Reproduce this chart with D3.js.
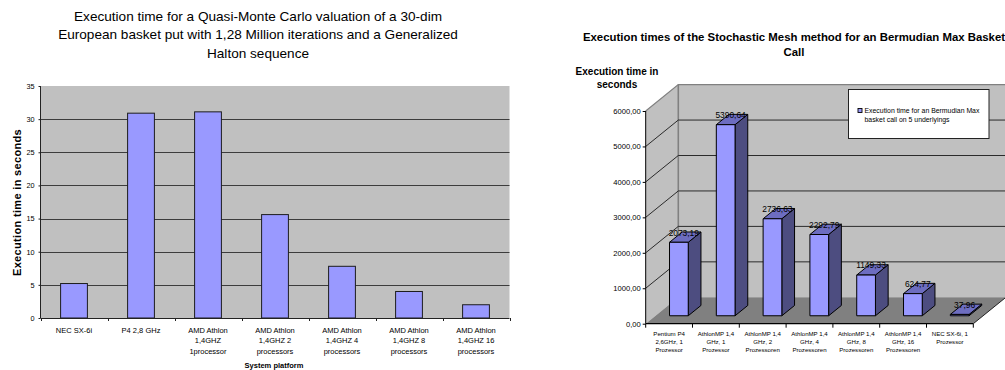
<!DOCTYPE html>
<html>
<head>
<meta charset="utf-8">
<script src="https://cdn.jsdelivr.net/npm/d3@7"></script>
<style>
html,body{margin:0;padding:0;background:#fff;overflow:hidden}
svg{display:block;font-family:"Liberation Sans",Arial,sans-serif}
text{fill:#000}
</style>
</head>
<body>
<svg id="chart" width="1005" height="370"></svg>
<script>
// Quasi-Monte Carlo timings (2D column chart)
const qmcTitle = ["Execution time for a Quasi-Monte Carlo valuation of a 30-dim",
  "European basket put with 1,28 Million iterations and a Generalized",
  "Halton sequence"];
const qmcCategories = ["NEC SX-6i", "P4 2,8 GHz", "AMD Athlon|1,4GHZ|1processor",
  "AMD Athlon|1,4GHZ 2|processors", "AMD Athlon|1,4GHZ 4|processors",
  "AMD Athlon|1,4GHZ 8|processors", "AMD Athlon|1,4GHZ 16|processors"];
const qmcValues = [5.2, 30.9, 31.1, 15.6, 7.8, 4.0, 2.0];
const qmcTicks = [0, 5, 10, 15, 20, 25, 30, 35];

// Stochastic Mesh timings (3D column chart)
const meshTitle = ["Execution times of the Stochastic Mesh method for an Bermudian Max Basket", "Call"];
const meshCategories = ["Pentium P4|2,6GHz, 1|Prozessor", "AthlonMP 1,4|GHz, 1|Prozessor",
  "AthlonMP 1,4|GHz, 2|Prozessoren", "AthlonMP 1,4|GHz, 4|Prozessoren",
  "AthlonMP 1,4|GHz, 8|Prozessoren", "AthlonMP 1,4|GHz, 16|Prozessoren", "NEC SX-6i, 1|Prozessor"];
const meshValues = [2073.19, 5390.64, 2736.63, 2292.79, 1149.33, 624.77, 37.96];
const meshTicks = [0, 1000, 2000, 3000, 4000, 5000, 6000];
const meshLegend = ["Execution time for an Bermudian Max", "basket call on 5 underlyings"];

const svg = d3.select("#chart");
const commaLocale = d3.formatLocale({decimal: ",", thousands: "", grouping: [3], currency: ["", ""]});
const fmt2 = commaLocale.format(".2f");

function multiline(g, x, y, lines, gap, size, weight) {
  lines.forEach((line, i) => g.append("text")
    .attr("x", x).attr("y", y + i * gap)
    .attr("text-anchor", "middle")
    .attr("font-size", size)
    .attr("font-weight", weight || "normal")
    .text(line));
}

/* ---------- left chart ---------- */
(function () {
  const g = svg.append("g");
  const x = d3.scaleBand().domain(qmcCategories).range([40.5, 509.5]).paddingInner(0.6).paddingOuter(0.3);
  const edge = d3.scaleBand().domain(qmcCategories).range([40.5, 509.5]);
  const y = d3.scaleLinear().domain([0, 35]).range([318, 86]);

  multiline(g, 258, 20.5, qmcTitle, 18.5, 13.6);

  g.append("rect").attr("x", 40.5).attr("y", y(35))
    .attr("width", 469).attr("height", y(0) - y(35)).attr("fill", "#c0c0c0");

  g.selectAll("line.grid").data(qmcTicks.slice(1, -1)).join("line")
    .attr("class", "grid")
    .attr("x1", 40.5).attr("x2", 509.5)
    .attr("y1", d => Math.round(y(d)) + 0.5).attr("y2", d => Math.round(y(d)) + 0.5)
    .attr("stroke", "#3c3c3c");

  g.selectAll("rect.bar").data(qmcValues).join("rect")
    .attr("class", "bar")
    .attr("x", (d, i) => x(qmcCategories[i]))
    .attr("width", x.bandwidth())
    .attr("y", d => y(d))
    .attr("height", d => y(0) - y(d))
    .attr("fill", "#9999ff")
    .attr("stroke", "#1c1c1c");

  const yAxis = g.append("g").attr("transform", "translate(40.5,0)")
    .call(d3.axisLeft(y).tickValues(qmcTicks).tickSize(2).tickPadding(4));
  yAxis.selectAll("text").attr("font-size", 7.3).attr("font-family", "inherit");
  yAxis.selectAll("path,line").attr("stroke", "#222");
  yAxis.select("path").attr("d", `M0,${y(35)}V${y(0)}`);

  g.append("line").attr("x1", 40.5).attr("x2", 509.5).attr("y1", 318.5).attr("y2", 318.5).attr("stroke", "#222");
  g.selectAll("line.xtick").data(qmcCategories.concat([null])).join("line")
    .attr("class", "xtick")
    .attr("x1", (d, i) => Math.round(40.5 + i * edge.bandwidth()) + 0.5)
    .attr("x2", (d, i) => Math.round(40.5 + i * edge.bandwidth()) + 0.5)
    .attr("y1", 318).attr("y2", 321)
    .attr("stroke", "#222");

  qmcCategories.forEach(c => multiline(g, edge(c) + edge.bandwidth() / 2, 332.5, c.split("|"), 10.7, 7.5));

  multiline(g, 274, 368, ["System platform"], 0, 7.5, "bold");
  g.append("text")
    .attr("transform", "translate(20.5,202.5) rotate(-90)")
    .attr("text-anchor", "middle").attr("font-size", 11).attr("font-weight", "bold")
    .attr("letter-spacing", 0.33)
    .text("Execution time in seconds");
})();

/* ---------- right chart ---------- */
(function () {
  const g = svg.append("g");
  const left = 645.7, right = 973.3;
  const depthX = 32.6, depthY = 26.4;             // oblique projection of the floor depth
  const x = d3.scaleBand().domain(meshCategories).range([left, right]);
  const y = d3.scaleLinear().domain([0, 6000]).range([323.7, 111]);
  const barBand = d3.scaleBand().domain(meshCategories).range([left, right]).paddingInner(0.6).paddingOuter(0.3);
  const pt = (px, py, d) => [px + depthX * d, py - depthY * d];
  const poly = pts => pts.map(p => p.join(",")).join(" ");

  multiline(g, 794, 41, meshTitle, 14.5, 11.4, "bold");
  multiline(g, 617, 75, ["Execution time in", "seconds"], 12.7, 10, "bold");

  // back wall and side wall
  g.append("polygon")
    .attr("points", poly([pt(left, y(0), 1), pt(left, y(6000), 1), pt(right + 40, y(6000), 1), pt(right + 40, y(0), 1)]))
    .attr("fill", "#c0c0c0");
  g.append("polygon")
    .attr("points", poly([pt(left, y(0), 0), pt(left, y(6000), 0), pt(left, y(6000), 1), pt(left, y(0), 1)]))
    .attr("fill", "#c0c0c0");
  g.append("path")
    .attr("d", d3.line()([pt(left, y(6000), 0), pt(left, y(6000), 1), pt(right + 40, y(6000), 1)]))
    .attr("fill", "none").attr("stroke", "#808080").attr("stroke-width", 1.2);
  g.append("line")
    .attr("x1", left + depthX).attr("x2", left + depthX)
    .attr("y1", y(6000) - depthY).attr("y2", y(0) - depthY)
    .attr("stroke", "#808080").attr("stroke-width", 1.6);

  // floor
  g.append("polygon")
    .attr("points", poly([pt(left, y(0), 0), pt(right, y(0), 0), pt(right, y(0), 1), pt(left, y(0), 1)]))
    .attr("fill", "#808080");

  // gridlines on the side wall and back wall
  const grid = meshTicks.slice(1, -1);
  g.selectAll("path.grid").data(grid).join("path")
    .attr("class", "grid")
    .attr("d", d => d3.line()([pt(left, y(d), 0), pt(left, y(d), 1), pt(right + 40, y(d), 1)]))
    .attr("fill", "none").attr("stroke", "#1a1a1a").attr("stroke-width", 0.9);

  // legend sits against the back wall
  const lg = g.append("g");
  lg.append("rect").attr("x", 848.5).attr("y", 89.5).attr("width", 140.5).attr("height", 49)
    .attr("fill", "#fff").attr("stroke", "#222");
  lg.append("rect").attr("x", 858).attr("y", 108.5).attr("width", 4).attr("height", 4)
    .attr("fill", "#9999ff").attr("stroke", "#000").attr("stroke-width", 0.9);
  meshLegend.forEach((t, i) => lg.append("text")
    .attr("x", 864.5).attr("y", 112.5 + i * 9.2).attr("font-size", 6.9).attr("fill", "#222").text(t));

  // columns
  const zNear = 0.3, zFar = 0.69;
  const bars = g.selectAll("g.col").data(meshValues).join("g").attr("class", "col");
  const left3 = (d, i) => barBand(meshCategories[i]);
  const right3 = (d, i) => barBand(meshCategories[i]) + barBand.bandwidth();
  bars.append("polygon").attr("points", (d, i) => poly([
      pt(right3(d, i), y(0), zNear), pt(right3(d, i), y(d), zNear),
      pt(right3(d, i), y(d), zFar), pt(right3(d, i), y(0), zFar)]))
    .attr("fill", "#4d4d80");
  bars.append("polygon").attr("points", (d, i) => poly([
      pt(left3(d, i), y(d), zNear), pt(right3(d, i), y(d), zNear),
      pt(right3(d, i), y(d), zFar), pt(left3(d, i), y(d), zFar)]))
    .attr("fill", "#6d6dc0");
  bars.append("polygon").attr("points", (d, i) => poly([
      pt(left3(d, i), y(0), zNear), pt(right3(d, i), y(0), zNear),
      pt(right3(d, i), y(d), zNear), pt(left3(d, i), y(d), zNear)]))
    .attr("fill", "#9999ff");
  bars.selectAll("polygon").attr("stroke", "#000").attr("stroke-width", 1).attr("stroke-linejoin", "round");

  bars.append("text")
    .attr("x", (d, i) => (left3(d, i) + right3(d, i)) / 2 + depthX * 0.45)
    .attr("y", d => y(d) - 14.7)
    .attr("text-anchor", "middle").attr("font-size", 8.4)
    .text(d => fmt2(d));

  // axes along the front edge of the floor
  const yAxis = g.append("g").attr("transform", `translate(${left},0)`)
    .call(d3.axisLeft(y).tickValues(meshTicks).tickFormat(fmt2).tickSize(3).tickPadding(2));
  yAxis.selectAll("text").attr("font-size", 7.6).attr("font-family", "inherit").attr("fill", "#111");
  yAxis.selectAll("path,line").attr("stroke", "#000");
  yAxis.select("path").attr("d", `M0,${y(6000)}V${y(0)}`);

  const xAxis = g.append("g").attr("transform", `translate(0,${y(0)})`)
    .call(d3.axisBottom(x).tickSize(0).tickFormat(""));
  xAxis.select("path").attr("d", `M${left},0H${right}`).attr("stroke", "#000").attr("stroke-width", 1.2);
  g.selectAll("line.xtick").data(meshCategories.concat([null])).join("line")
    .attr("class", "xtick")
    .attr("x1", (d, i) => left + i * x.bandwidth()).attr("x2", (d, i) => left + i * x.bandwidth())
    .attr("y1", y(0)).attr("y2", y(0) + 4)
    .attr("stroke", "#000");
  g.append("line")
    .attr("x1", right).attr("y1", y(0))
    .attr("x2", right + depthX).attr("y2", y(0) - depthY)
    .attr("stroke", "#222");

  meshCategories.forEach(c => multiline(g, x(c) + x.bandwidth() / 2, 335.8, c.split("|"), 8.3, 6.1));
})();
</script>
</body>
</html>
